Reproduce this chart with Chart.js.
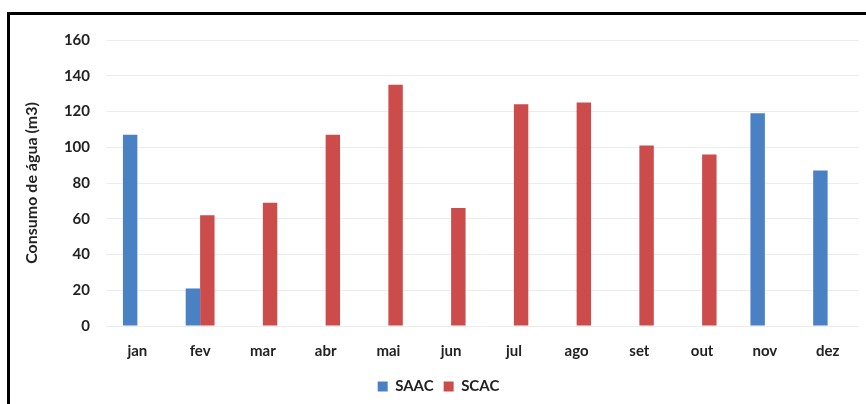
<!DOCTYPE html>
<html lang="pt">
<head>
<meta charset="UTF-8">
<title>Consumo de água</title>
<script src="https://cdn.jsdelivr.net/npm/chart.js@4"></script>
<style>
  body { margin: 0; background: #fff; }
  #wrap { position: relative; width: 866px; height: 404px; }
  #frame { position: absolute; left: 7px; top: 12px; width: 900px; height: 500px;
           border-top: 3px solid #000; border-left: 3px solid #000; pointer-events: none; }
</style>
</head>
<body>
<div id="wrap">
  <canvas id="chart" width="866" height="404"></canvas>
  <div id="frame"></div>
</div>
<script>
var meses = ["jan", "fev", "mar", "abr", "mai", "jun", "jul", "ago", "set", "out", "nov", "dez"]
var saac = [107, 21, null, null, null, null, null, null, null, null, 119, 87]
var scac = [null, 62, 69, 107, 135, 66, 124, 125, 101, 96, null, null]
var yTicks = [0, 20, 40, 60, 80, 100, 120, 140, 160]

var fonte = { family: "Lato, 'Open Sans', sans-serif", size: 15, weight: "bold" }

var chart = new Chart(document.getElementById("chart"), {
    type: "bar",
    data: {
        labels: meses,
        datasets: [
            { label: "SAAC", data: saac, backgroundColor: "#4a80c4", skipNull: false },
            { label: "SCAC", data: scac, backgroundColor: "#cc4b4b", skipNull: false }
        ]
    },
    options: {
        responsive: false,
        animation: false,
        layout: { padding: { left: 18, right: 7, top: 40, bottom: 0 } },
        datasets: { bar: { barPercentage: 1, categoryPercentage: 0.46 } },
        plugins: {
            legend: {
                position: "bottom",
                labels: { boxWidth: 10, boxHeight: 10, padding: 10, color: "#222", font: fonte }
            },
            tooltip: { enabled: false }
        },
        scales: {
            x: {
                grid: { display: false },
                border: { display: false },
                ticks: { color: "#222", font: fonte, padding: 8 },
                afterFit: function(s) { s.height = 43 }
            },
            y: {
                min: 0, max: 160,
                afterBuildTicks: function(s) { s.ticks = yTicks.map(function(v) { return { value: v } }) },
                grid: { color: "#ececec", drawTicks: false },
                border: { display: false },
                ticks: { color: "#222", font: fonte, padding: 16 },
                title: { display: true, text: "Consumo de água (m3)", color: "#222",
                         font: { family: "Lato, 'Open Sans', sans-serif", size: 16, weight: "bold" } },
                afterFit: function(s) { s.width = 88 }
            }
        }
    }
})
</script>
</body>
</html>
